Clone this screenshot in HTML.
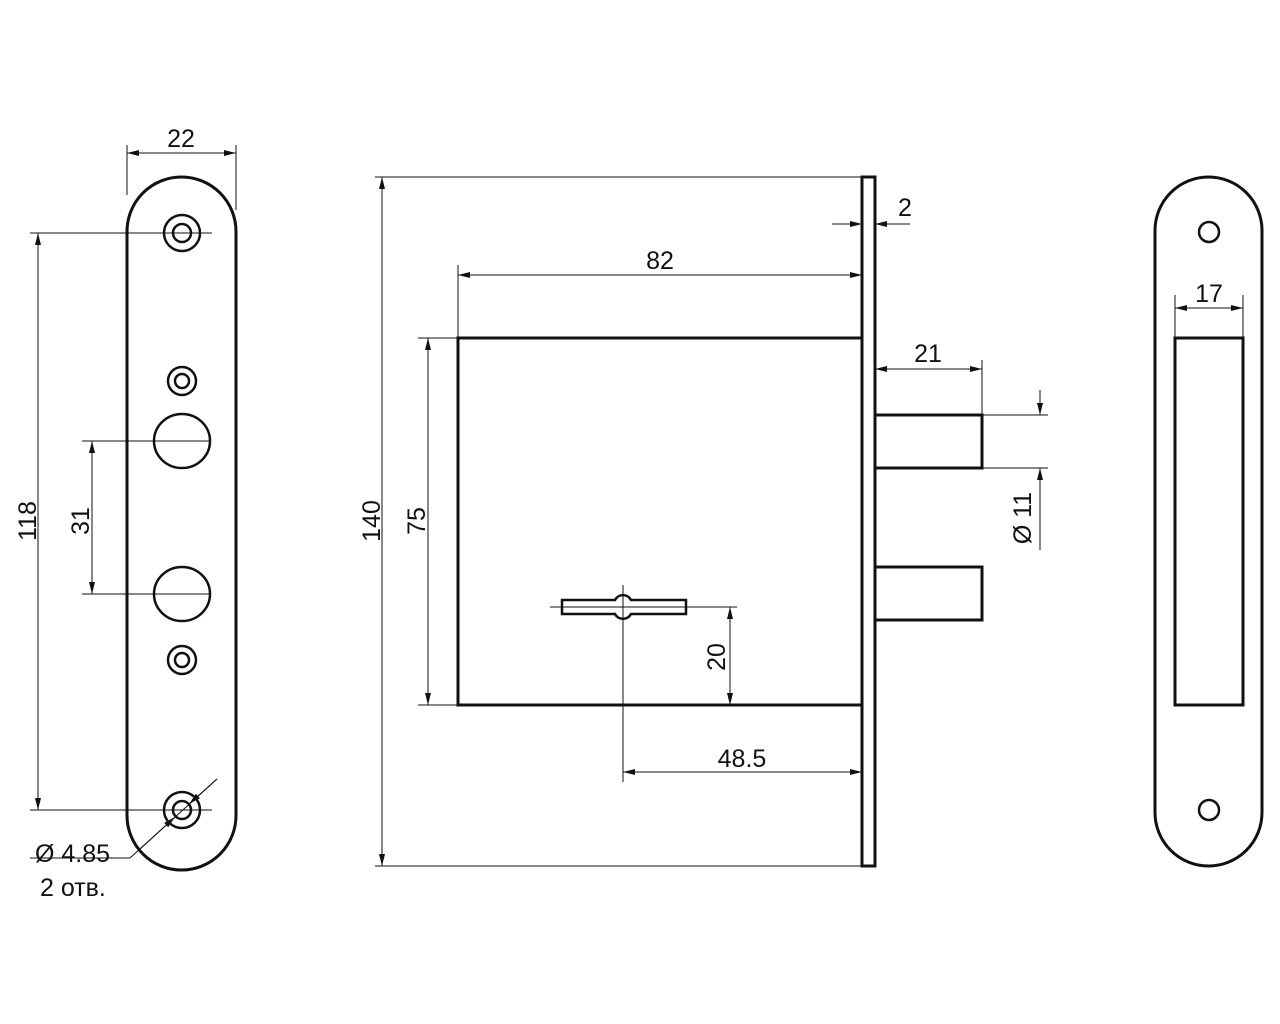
<!DOCTYPE html>
<html><head><meta charset="utf-8"><style>html,body{margin:0;padding:0;background:#fff}svg{display:block}</style></head><body>
<svg width="1280" height="1024" viewBox="0 0 1280 1024" xmlns="http://www.w3.org/2000/svg" font-family="Liberation Sans, sans-serif" font-size="25" fill="none" stroke="#111">
<defs>
<marker id="a" viewBox="0 0 12 6" refX="12" refY="3" markerWidth="13" markerHeight="6" orient="auto-start-reverse" markerUnits="userSpaceOnUse"><path d="M0,0 L12,3 L0,6 z" fill="#111" stroke="none"/></marker>
</defs>
<!-- Left plate -->
<rect x="127" y="177" width="109" height="693" rx="54.5" stroke-width="3"/>
<g stroke-width="2.5">
<circle cx="182" cy="233" r="18"/><circle cx="182" cy="233" r="9"/>
<circle cx="182" cy="381" r="14"/><circle cx="182" cy="381" r="7"/>
<ellipse cx="182" cy="441" rx="28" ry="27"/>
<ellipse cx="182" cy="594" rx="28" ry="27"/>
<circle cx="182" cy="660" r="14"/><circle cx="182" cy="660" r="7"/>
<circle cx="182" cy="810" r="18"/><circle cx="182" cy="810" r="9"/>
</g>
<g stroke-width="1">
<line x1="127" y1="145" x2="127" y2="195"/><line x1="236" y1="145" x2="236" y2="210"/>
<line x1="127" y1="153" x2="236" y2="153" marker-start="url(#a)" marker-end="url(#a)"/>
<line x1="30" y1="233" x2="212" y2="233"/><line x1="30" y1="810" x2="212" y2="810"/>
<line x1="38" y1="233" x2="38" y2="810" marker-start="url(#a)" marker-end="url(#a)"/>
<line x1="82" y1="441" x2="210" y2="441"/><line x1="82" y1="594" x2="210" y2="594"/>
<line x1="92" y1="441" x2="92" y2="594" marker-start="url(#a)" marker-end="url(#a)"/>
<line x1="217" y1="779" x2="130" y2="858"/>
<line x1="217" y1="779" x2="189" y2="804" marker-end="url(#a)"/>
<line x1="140" y1="849" x2="175" y2="817" marker-end="url(#a)"/>
<line x1="30" y1="858" x2="130" y2="858"/>
</g>
<g fill="#111" stroke="none">
<text x="181" y="147" text-anchor="middle">22</text>
<text transform="translate(36,521) rotate(-90)" text-anchor="middle">118</text>
<text transform="translate(89,521) rotate(-90)" text-anchor="middle">31</text>
<text x="35" y="862">Ø 4.85</text>
<text x="40" y="896">2 отв.</text>
</g>
<!-- Middle -->
<rect x="862" y="177" width="13" height="689" stroke-width="3"/>
<rect x="458" y="338" width="404" height="367" stroke-width="3"/>
<rect x="875" y="415" width="107" height="53" stroke-width="3"/>
<rect x="875" y="567" width="107" height="53" stroke-width="3"/>
<path d="M562,600 H615 A9,9 0 0 1 631,600 H686 V614 H631 A9,9 0 0 1 615,614 H562 Z" stroke-width="2.5" fill="#fff"/>
<g stroke-width="1">
<line x1="375" y1="177" x2="862" y2="177"/><line x1="375" y1="866" x2="862" y2="866"/>
<line x1="382" y1="177" x2="382" y2="866" marker-start="url(#a)" marker-end="url(#a)"/>
<line x1="418" y1="338" x2="458" y2="338"/><line x1="418" y1="705" x2="458" y2="705"/>
<line x1="428" y1="338" x2="428" y2="705" marker-start="url(#a)" marker-end="url(#a)"/>
<line x1="458" y1="265" x2="458" y2="338"/>
<line x1="458" y1="275" x2="862" y2="275" marker-start="url(#a)" marker-end="url(#a)"/>
<line x1="832" y1="224" x2="862" y2="224" marker-end="url(#a)"/>
<line x1="910" y1="224" x2="875" y2="224" marker-end="url(#a)"/>
<line x1="982" y1="360" x2="982" y2="415"/>
<line x1="875" y1="369" x2="982" y2="369" marker-start="url(#a)" marker-end="url(#a)"/>
<line x1="982" y1="415" x2="1048" y2="415"/><line x1="982" y1="468" x2="1048" y2="468"/>
<line x1="1040" y1="390" x2="1040" y2="415" marker-end="url(#a)"/>
<line x1="1040" y1="550" x2="1040" y2="468" marker-end="url(#a)"/>
<line x1="550" y1="607" x2="737" y2="607"/>
<line x1="623" y1="585" x2="623" y2="782"/>
<line x1="730" y1="607" x2="730" y2="705" marker-start="url(#a)" marker-end="url(#a)"/>
<line x1="623" y1="772" x2="862" y2="772" marker-start="url(#a)" marker-end="url(#a)"/>
</g>
<g fill="#111" stroke="none">
<text transform="translate(380,521) rotate(-90)" text-anchor="middle">140</text>
<text transform="translate(425,521) rotate(-90)" text-anchor="middle">75</text>
<text x="660" y="269" text-anchor="middle">82</text>
<text x="905" y="216" text-anchor="middle">2</text>
<text x="928" y="362" text-anchor="middle">21</text>
<text transform="translate(1031,518) rotate(-90)" text-anchor="middle">Ø 11</text>
<text transform="translate(725,657) rotate(-90)" text-anchor="middle">20</text>
<text x="742" y="767" text-anchor="middle">48.5</text>
</g>
<!-- Right strike -->
<rect x="1155" y="177" width="107" height="689" rx="53.5" stroke-width="3"/>
<circle cx="1209" cy="232" r="10" stroke-width="2.5"/>
<circle cx="1209" cy="810" r="10" stroke-width="2.5"/>
<rect x="1175" y="338" width="68" height="367" stroke-width="3"/>
<g stroke-width="1">
<line x1="1175" y1="295" x2="1175" y2="338"/><line x1="1243" y1="295" x2="1243" y2="338"/>
<line x1="1175" y1="308" x2="1243" y2="308" marker-start="url(#a)" marker-end="url(#a)"/>
</g>
<text x="1209" y="302" text-anchor="middle" fill="#111" stroke="none">17</text>
</svg>
</body></html>
